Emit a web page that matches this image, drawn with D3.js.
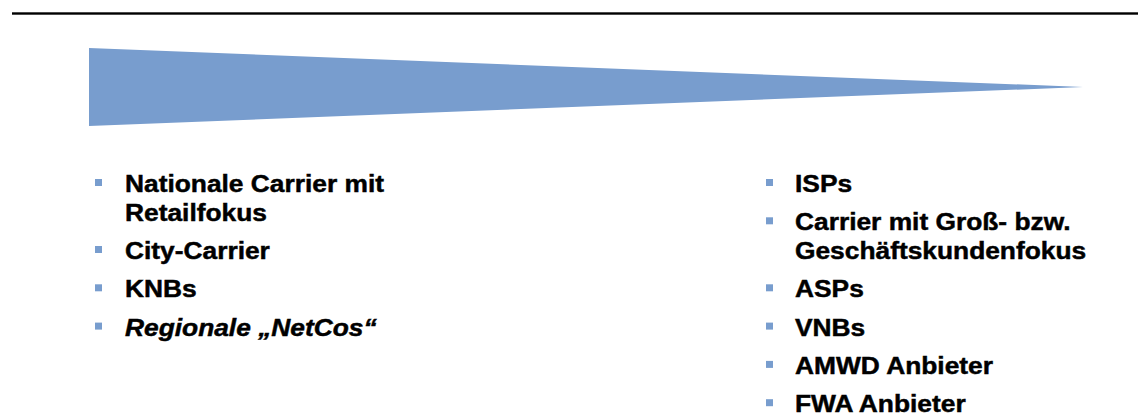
<!DOCTYPE html>
<html><head><meta charset="utf-8">
<script src="https://cdn.jsdelivr.net/npm/d3@7"></script>
<style>html,body{margin:0;padding:0;background:#fff;}svg{display:block;}</style>
</head><body>
<svg id="c" width="1138" height="414"></svg>
<script>
// Data
const leftItems = [
  ["Nationale Carrier mit", "Retailfokus"],
  ["City-Carrier"],
  ["KNBs"],
  ["Regionale „NetCos“"]
];
const rightItems = [
  ["ISPs"],
  ["Carrier mit Groß- bzw.", "Geschäftskundenfokus"],
  ["ASPs"],
  ["VNBs"],
  ["AMWD Anbieter"],
  ["FWA Anbieter"]
];
const italicItems = ["Regionale „NetCos“"];
// wedge: relative position along axis -> relative thickness
const wedgePos = [0, 1];
const wedgeThickness = [1, 0];

const svg = d3.select("#c");
const blue = "#789dce";

// top rule
svg.append("rect").attr("x", 12).attr("y", 12.3).attr("width", 1126).attr("height", 2.4).attr("fill", "#000");

// wedge
const wx = d3.scaleLinear().domain([0, 1]).range([89, 1083]);
const wh = d3.scaleLinear().domain([0, 1]).range([0, 39]);
const cy = 87;
const pts = wedgePos.map((p, i) => [wx(p), cy - wh(wedgeThickness[i])])
  .concat(wedgePos.map((p, i) => [wx(p), cy + wh(wedgeThickness[i])]).reverse());
svg.append("path").attr("d", d3.line()(pts) + "Z").attr("fill", blue);

function drawList(items, bx, tx, y0) {
  const g = svg.append("g");
  let y = y0;
  items.forEach(lines => {
    g.append("rect").attr("x", bx).attr("y", y - 13).attr("width", 7).attr("height", 7).attr("fill", blue);
    lines.forEach((ln, j) => {
      const t = g.append("text")
        .attr("transform", `translate(${tx},${y + j * 28.7}) scale(1.145,1)`)
        .attr("font-family", "Liberation Sans, Arial, sans-serif")
        .attr("font-weight", "bold")
        .attr("font-size", 23)
        .attr("fill", "#000")
        .attr("stroke", "#000")
        .attr("stroke-width", 0.45)
        .text(ln);
      if (italicItems.includes(ln)) t.attr("font-style", "italic");
    });
    y += (lines.length - 1) * 28.7 + 38.3;
  });
}
drawList(leftItems, 95, 125, 192);
drawList(rightItems, 766, 795, 192);
</script>
</body></html>
